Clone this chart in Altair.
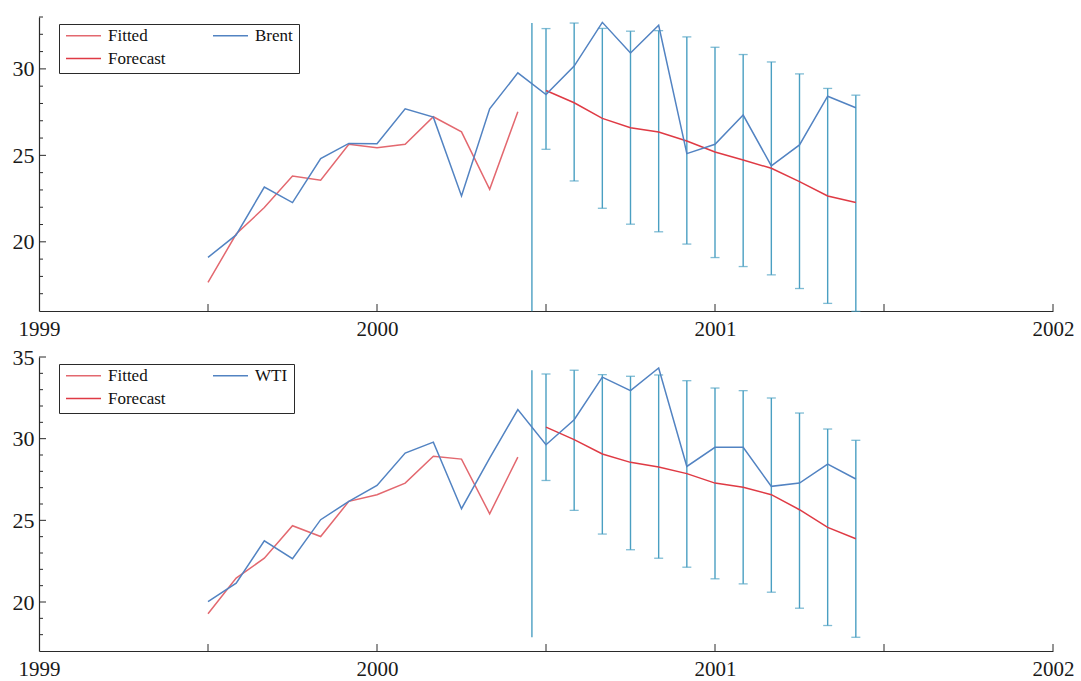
import altair as alt
import pandas as pd

# ---------------- data ----------------
months_fit = [1999 + 6/12 + i/12 for i in range(12)]      # Jul 1999 .. Jun 2000
months_fc = [2000 + 6/12 + i/12 for i in range(12)]       # Jul 2000 .. Jun 2001
forecast_origin = 2000 + 5.5/12

brent_actual = [19.10, 20.40, 23.17, 22.27, 24.81, 25.69, 25.67, 27.69, 27.21, 22.65, 27.69, 29.77,
                28.52, 30.16, 32.69, 30.92, 32.52, 25.10, 25.64, 27.33, 24.39, 25.60, 28.42, 27.75]
brent_fitted = [17.65, 20.45, 21.98, 23.81, 23.56, 25.64, 25.44, 25.64, 27.23, 26.36, 23.04, 27.52]
brent_forecast = [28.75, 28.04, 27.14, 26.60, 26.35, 25.83, 25.19, 24.73, 24.25, 23.48, 22.65, 22.27]
brent_upper = [32.33, 32.65, 32.34, 32.18, 32.21, 31.85, 31.25, 30.83, 30.40, 29.71, 28.87, 28.48]
brent_lower = [25.35, 23.52, 21.94, 21.02, 20.58, 19.87, 19.09, 18.57, 18.09, 17.30, 16.44, 15.98]

wti_actual = [20.03, 21.15, 23.75, 22.65, 25.04, 26.16, 27.14, 29.12, 29.79, 25.71, 28.81, 31.78,
              29.63, 31.16, 33.77, 32.94, 34.33, 28.30, 29.47, 29.47, 27.08, 27.28, 28.44, 27.53]
wti_fitted = [19.28, 21.46, 22.68, 24.67, 24.01, 26.16, 26.57, 27.28, 28.92, 28.75, 25.40, 28.87]
wti_forecast = [30.71, 29.94, 29.06, 28.55, 28.26, 27.86, 27.28, 27.03, 26.57, 25.65, 24.57, 23.87]
wti_upper = [33.96, 34.19, 33.92, 33.82, 33.90, 33.55, 33.10, 32.94, 32.49, 31.57, 30.59, 29.90]
wti_lower = [27.44, 25.61, 24.16, 23.20, 22.68, 22.13, 21.42, 21.11, 20.60, 19.62, 18.56, 17.84]

x_labels = [1999, 2000, 2001, 2002]
x_ticks = [1999.5, 2000, 2000.5, 2001, 2001.5, 2002]

FIT_C = "#e3686f"
FC_C = "#df3a44"
ACT_C = "#5283c2"
BAR_C = "#4a9fc2"
AX_C = "#2a2a2a"
FONT = "Liberation Serif"
W, H = 1014, 294


def panel(name, actual, fitted, forecast, lower, upper, y_domain, y_labels):
    rows = []
    for x, v in zip(months_fit, fitted):
        rows.append({"x": x, "value": v, "series": "Fitted"})
    for x, v in zip(months_fc, forecast):
        rows.append({"x": x, "value": v, "series": "Forecast"})
    for x, v in zip(months_fit + months_fc, actual):
        rows.append({"x": x, "value": v, "series": name})
    lines_df = pd.DataFrame(rows)

    bars_df = pd.DataFrame({"x": months_fc, "lower": lower, "upper": upper})
    vline_df = pd.DataFrame({"x": [forecast_origin], "lower": [min(lower)], "upper": [max(upper)]})

    lo, hi = y_domain
    major_y = y_labels
    minor_y = [v for v in range(int(lo) + 1, int(hi) + 1) if v not in y_labels]
    major_df = pd.DataFrame({"value": major_y})
    minor_df = pd.DataFrame({"value": minor_y})
    xtick_df = pd.DataFrame({"x": x_ticks})

    xs = alt.Scale(domain=[1999, 2002], nice=False, zero=False)
    ys = alt.Scale(domain=list(y_domain), nice=False, zero=False)
    x_axis = alt.Axis(values=x_labels, format="d", labelFlush=False, ticks=False, tickSize=0,
                      labelPadding=7, grid=False, domainColor=AX_C, domainWidth=1.2,
                      labelFont=FONT, labelFontSize=21, labelColor="#1a1a1a")
    y_axis = alt.Axis(values=y_labels, format="d", ticks=False, tickSize=0, labelPadding=5,
                      grid=False, domainColor=AX_C, domainWidth=1.2,
                      labelFont=FONT, labelFontSize=22, labelColor="#1a1a1a")

    def X(field):
        return alt.X(field, scale=xs, axis=x_axis, title=None)

    def Y(field):
        return alt.Y(field, scale=ys, axis=y_axis, title=None)

    vline = alt.Chart(vline_df).mark_rule(color=BAR_C, strokeWidth=1.4).encode(
        x=X("x:Q"), y=Y("lower:Q"), y2="upper:Q")
    bars = alt.Chart(bars_df).mark_rule(color=BAR_C, strokeWidth=1.4).encode(
        x=X("x:Q"), y=Y("lower:Q"), y2="upper:Q")
    cap_hi = alt.Chart(bars_df).mark_tick(color=BAR_C, orient="horizontal", size=9, thickness=1.3).encode(
        x=X("x:Q"), y=Y("upper:Q"))
    cap_lo = alt.Chart(bars_df).mark_tick(color=BAR_C, orient="horizontal", size=9, thickness=1.3).encode(
        x=X("x:Q"), y=Y("lower:Q"))

    order = ["Fitted", "Forecast", name]
    lines = alt.Chart(lines_df).mark_line(strokeWidth=1.5).encode(
        x=X("x:Q"), y=Y("value:Q"),
        color=alt.Color("series:N",
                        scale=alt.Scale(domain=order, range=[FIT_C, FC_C, ACT_C]),
                        sort=order,
                        legend=alt.Legend(title=None, orient="none", legendX=20, legendY=7,
                                          columns=2, columnPadding=46, rowPadding=5,
                                          symbolType="stroke", symbolSize=1225, symbolStrokeWidth=1.5,
                                          labelFont=FONT, labelFontSize=17, labelColor="#111",
                                          labelOffset=6, clipHeight=11,
                                          strokeColor=AX_C, fillColor="white", padding=6)),
    )

    yticks_major = alt.Chart(major_df).mark_rule(color=AX_C, strokeWidth=1).encode(
        y=Y("value:Q"), x=alt.value(0), x2=alt.value(7))
    yticks_minor = alt.Chart(minor_df).mark_rule(color=AX_C, strokeWidth=1).encode(
        y=Y("value:Q"), x=alt.value(0), x2=alt.value(4))
    xticks = alt.Chart(xtick_df).mark_rule(color=AX_C, strokeWidth=1).encode(
        x=X("x:Q"), y=alt.value(H), y2=alt.value(H - 7))

    return alt.layer(vline, bars, cap_hi, cap_lo, lines, yticks_major, yticks_minor, xticks).properties(
        width=W, height=H)


top = panel("Brent", brent_actual, brent_fitted, brent_forecast, brent_lower, brent_upper, (16, 33), [20, 25, 30])
bottom = panel("WTI", wti_actual, wti_fitted, wti_forecast, wti_lower, wti_upper, (17, 35), [20, 25, 30, 35])

chart = alt.vconcat(top, bottom, spacing=46, bounds="flush").resolve_scale(
    color="independent", x="independent", y="independent"
).resolve_legend(color="independent").properties(
    padding={"left": 12, "top": 16, "right": 5, "bottom": 2},
    background="white",
).configure(font=FONT).configure_view(strokeWidth=0).configure_axis(
    labelFont=FONT, labelColor="#1a1a1a"
).configure_legend(labelFont=FONT)

chart.save("out.html", embed_options={"renderer": "svg", "actions": False})
